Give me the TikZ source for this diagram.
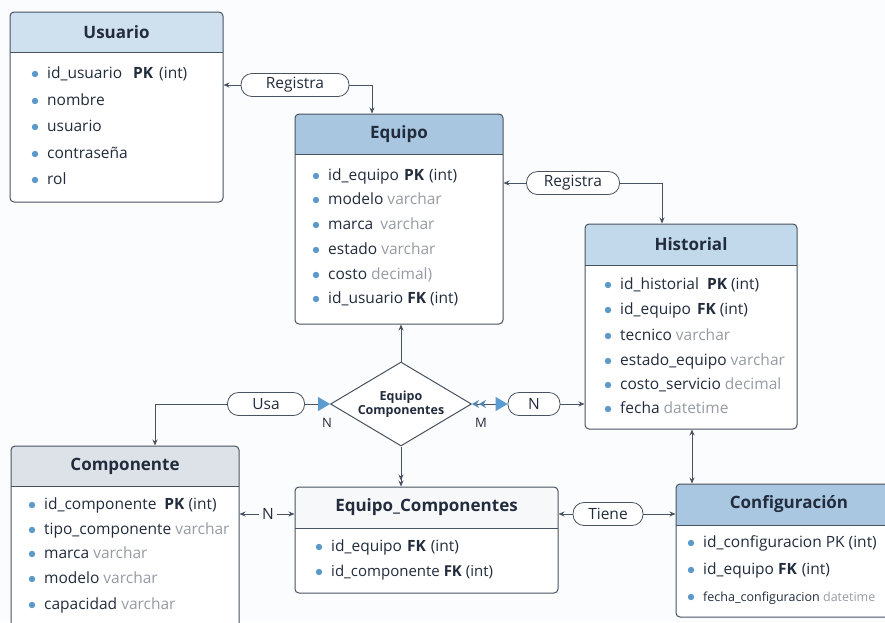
\documentclass[tikz,border=0pt]{standalone}
\usepackage{fontspec}
\setmainfont{Open Sans}
\usetikzlibrary{arrows.meta,shapes.geometric,fit}
\definecolor{bgc}{RGB}{251,252,253}
\definecolor{txt}{RGB}{34,44,60}
\definecolor{bdc}{RGB}{72,82,96}
\definecolor{bul}{RGB}{92,152,200}
\definecolor{typ}{RGB}{150,156,164}
\definecolor{hU}{RGB}{207,224,239}
\definecolor{hE}{RGB}{168,198,224}
\definecolor{hH}{RGB}{194,216,235}
\definecolor{hC}{RGB}{221,226,232}
\definecolor{hEC}{RGB}{246,248,250}
\definecolor{hCf}{RGB}{170,199,225}
\definecolor{blt}{RGB}{90,155,210}
\newcommand\erbox[8]{%
  \fill[white, rounded corners=4pt] (#2,#3) rectangle (#4,#5);
  \begin{scope}
    \clip[rounded corners=4pt] (#2,#3) rectangle (#4,#5);
    \fill[#7] (#2,#3) rectangle (#4,#6);
  \end{scope}
  \draw[bdc, line width=0.9pt] (#2,#6) -- (#4,#6);
  \node[fit={(#2,#3)(#4,#5)}, inner sep=0pt, draw=bdc, line width=1pt, rounded corners=4pt] (#1) {};
  \node[ttl] (#1-t) at ({(#2+#4)/2},{(#3+#6)/2}) {#8};
}
\newcommand\rowitem[4]{%
  \fill[bul] (#2,#3) circle (3.2pt);
  \node[rowtxt] (#1) at ({#2+12},#3) {#4};
}
\newcommand\ty[1]{\textcolor{typ}{#1}}
\newcommand\gp[1]{\hspace{#1pt}}
\tikzset{
  ttl/.style={text=txt, font=\fontsize{17}{20}\selectfont\bfseries, inner sep=0pt},
  rowtxt/.style={text=txt, font=\fontsize{15.5}{18}\selectfont, anchor=west, inner sep=0pt, text height=11pt, text depth=3pt},
  pill/.style={draw=bdc, line width=0.8pt, fill=white, rounded corners=11pt, minimum height=23pt, inner sep=0pt, text=txt, font=\fontsize{15.5}{18}\selectfont},
  arr/.style={draw=bdc, line width=0.9pt, -{Stealth[length=6pt,width=5pt]}},
  lbl/.style={text=txt, font=\fontsize{13}{15}\selectfont, inner sep=0pt},
}
\begin{document}
\begin{tikzpicture}[x=1pt,y=-1pt]
\useasboundingbox (0,0) rectangle (885,622);
\fill[bgc] (0,0) rectangle (885,622);

% ---------- Usuario
\erbox{usuario}{10}{12}{223}{202}{52}{hU}{Usuario}
\rowitem{u1}{35}{74}{id\_usuario\gp{11}\textbf{PK}\gp{6}(int)}
\rowitem{u2}{35}{101}{nombre}
\rowitem{u3}{35}{127}{usuario}
\rowitem{u4}{35}{154}{contraseña}
\rowitem{u5}{35}{180}{rol}

% ---------- Equipo
\erbox{equipo}{295}{114}{503}{324}{154}{hE}{Equipo}
\rowitem{e1}{316}{176}{id\_equipo\gp{5}\textbf{PK}\gp{5}(int)}
\rowitem{e2}{316}{200}{modelo \ty{varchar}}
\rowitem{e3}{316}{225}{marca\gp{3} \ty{varchar}}
\rowitem{e4}{316}{250}{estado \ty{varchar}}
\rowitem{e5}{316}{275}{costo \ty{decimal)}}
\rowitem{e6}{316}{299}{id\_usuario \textbf{FK} (int)}

% ---------- Historial
\erbox{historial}{585}{224}{797}{429}{265}{hH}{Historial}
\rowitem{h1}{608}{285}{id\_historial\gp{8}\textbf{PK}\gp{4}(int)}
\rowitem{h2}{608}{310}{id\_equipo\gp{6}\textbf{FK}\gp{4}(int)}
\rowitem{h3}{608}{336}{tecnico \ty{varchar}}
\rowitem{h4}{608}{361}{estado\_equipo \ty{varchar}}
\rowitem{h5}{608}{385}{costo\_servicio \ty{decimal}}
\rowitem{h6}{608}{409}{fecha \ty{datetime}}

% ---------- Componente
\erbox{comp}{11}{446}{239}{650}{486}{hC}{Componente}
\rowitem{c1}{32}{505}{id\_componente\gp{8}\textbf{PK} (int)}
\rowitem{c2}{32}{530}{tipo\_componente \ty{varchar}}
\rowitem{c3}{32}{554}{marca \ty{varchar}}
\rowitem{c4}{32}{579}{modelo \ty{varchar}}
\rowitem{c5}{32}{605}{capacidad \ty{varchar}}

% ---------- Equipo_Componentes
\erbox{ec}{295}{487}{558}{593}{528}{hEC}{Equipo\_Componentes}
\rowitem{ec1}{319}{547}{id\_equipo\gp{5}\textbf{FK}\gp{5}(int)}
\fill[bul] (319,572) circle (3.2pt);
\node[rowtxt, font=\fontsize{15}{18}\selectfont] (ec2) at (331,572) {id\_componente \textbf{FK} (int)};

% ---------- Configuracion
\erbox{config}{676}{484}{902}{617}{525}{hCf}{Configuración}
\rowitem{cf1}{691}{543}{id\_configuracion PK (int)}
\rowitem{cf2}{691}{570}{id\_equipo \textbf{FK}\gp{5}(int)}
\fill[bul] (691,597) circle (3.2pt);
\node[rowtxt, font=\fontsize{12.5}{15}\selectfont] (cf3) at (703,597) {fecha\_configuracion \ty{datetime}};

% ---------- relationship diamond
\node[diamond, draw=bdc, line width=1pt, fill=white, minimum width=141pt, minimum height=84pt, inner sep=0pt, aspect=1.68, text=txt, font=\fontsize{12.5}{15}\selectfont\bfseries, align=center] (rel) at (401,404) {Equipo\\[-1pt]Componentes};

% ---------- pills
\node[pill, minimum width=108pt] (reg1) at (295,85) {Registra};
\node[pill, minimum width=93pt] (reg2) at (573,183) {Registra};
\node[pill, minimum width=77pt] (usa) at (266,404) {Usa};
\node[pill, minimum width=52pt] (np) at (534,404) {N};
\node[pill, minimum width=70pt] (tiene) at (608,514) {Tiene};
\node[lbl, font=\fontsize{15.5}{18}\selectfont] (nc) at (268,514) {N};
\node[lbl] (ln) at (327,423) {N};
\node[lbl] (lm) at (481,423) {M};

% ---------- connectors
\draw[arr] (reg1.west) -- (usuario.east |- reg1.west);
\draw[arr] (reg1.east) -| ([xshift=-27pt]equipo.north);
\draw[arr] (reg2.west) -- (equipo.east |- reg2.west);
\draw[arr] (reg2.east) -| ([xshift=-29pt]historial.north);
\draw[arr] (rel.north) -- (rel.north |- equipo.south);
\draw[draw=bdc, line width=0.9pt, -{Stealth[length=6pt,width=5pt]Stealth[length=6pt,width=5pt]}] (rel.south) -- (rel.south |- ec.north);
\draw[arr] (usa.west) -| ([xshift=30pt]comp.north);
\draw[draw=bdc, line width=0.9pt, -{Triangle[length=12pt,width=14pt,color=blt]}] (usa.east) -- (rel.west);
\draw[draw=bdc, line width=0.9pt, {Stealth[length=7pt,width=8pt,color=blt!70!bdc]Stealth[length=7pt,width=8pt,color=blt!70!bdc]}-{Triangle[length=12pt,width=14pt,color=blt]}] (rel.east) -- (np.west);
\draw[arr] (np.east) -- (historial.west |- np.east);
\draw[draw=bdc, line width=0.9pt, {Stealth[length=6pt,width=5pt]}-{Stealth[length=6pt,width=5pt]}] (historial.south) ++(1pt,0) coordinate (hs) -- (hs |- config.north);
\draw[arr] (tiene.west) -- (ec.east |- tiene.west);
\draw[arr] (tiene.east) -- (config.west |- tiene.east);
\draw[arr] (nc.west) ++(-3pt,0) -- (comp.east |- nc.west);
\draw[arr] (nc.east) ++(3pt,0) -- (ec.west |- nc.east);
\end{tikzpicture}
\end{document}
